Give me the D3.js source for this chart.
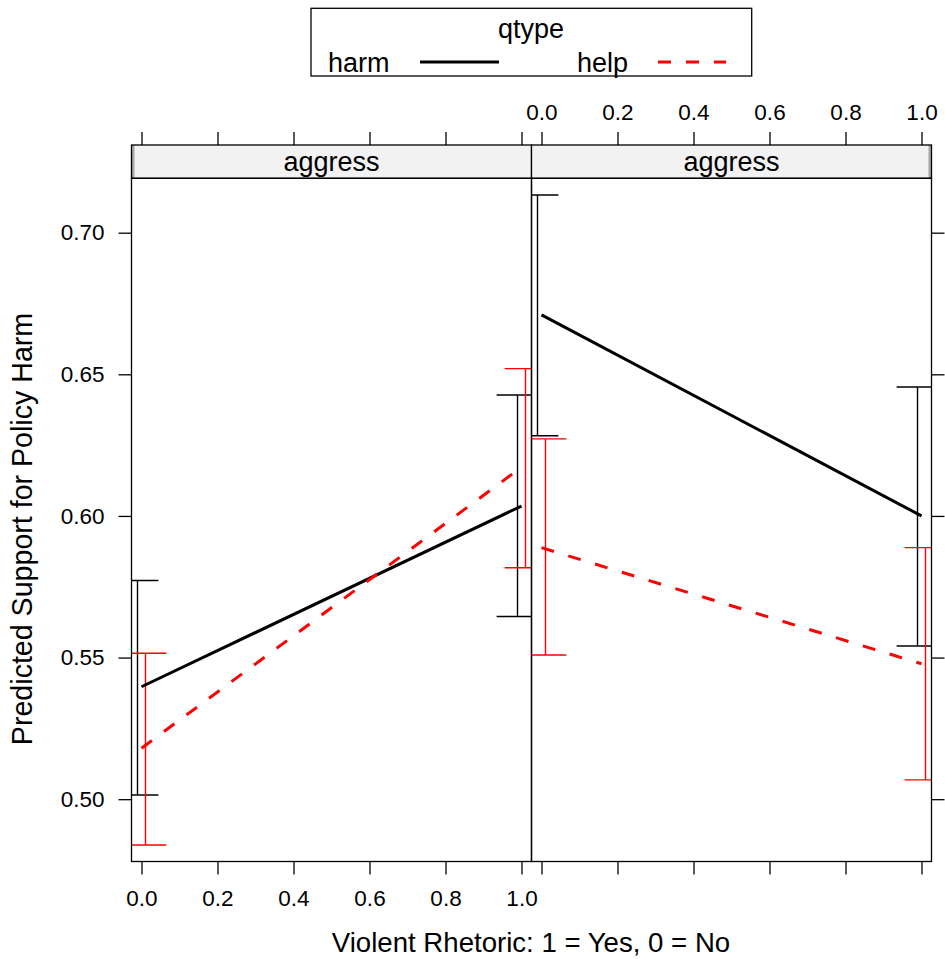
<!DOCTYPE html>
<html>
<head>
<meta charset="utf-8">
<script src="https://cdn.jsdelivr.net/npm/d3@7"></script>
<style>
  body { margin: 0; background: #fff; }
  text { font-family: "Liberation Sans", Arial, sans-serif; fill: #000; }
</style>
</head>
<body>
<script>
// data
var panelNames = ["aggress", "aggress"];
var xVals = [0, 1];
var qtypes = ["harm", "help"];
var harmFit   = [[0.5397, 0.6035], [0.6710, 0.6000]];
var harmLower = [[0.5015, 0.5645], [0.6283, 0.5541]];
var harmUpper = [[0.5772, 0.6427], [0.7133, 0.6455]];
var helpFit   = [[0.5180, 0.6172], [0.5888, 0.5478]];
var helpLower = [[0.4838, 0.5817], [0.5509, 0.5068]];
var helpUpper = [[0.5515, 0.6520], [0.6272, 0.5888]];
var xTicks = [0, 0.2, 0.4, 0.6, 0.8, 1.0];
var yTicks = [0.50, 0.55, 0.60, 0.65, 0.70];

var series = {
  harm: {fit: harmFit, lo: harmLower, hi: harmUpper, color: "#000000", dash: null, dodge: -0.0105},
  help: {fit: helpFit, lo: helpLower, hi: helpUpper, color: "#FF0000", dash: "13,15", dodge: 0.0105}
};

var svg = d3.select("body").append("svg")
    .attr("width", 945)
    .attr("height", 959);

var panelW = 400,
    panelTop = 178.3,
    panelBottom = 861.5,
    stripTop = 145,
    panelLeft = [131.5, 531.5],
    capHalf = 0.055;

var x = d3.scaleLinear().domain([-0.0263, 1.0263]).range([0, panelW]),
    y = d3.scaleLinear().domain([0.4780, 0.7192]).range([panelBottom, panelTop]);

var fmtX = d3.format(".1f"),
    fmtY = d3.format(".2f");

// legend
var leg = svg.append("g");
leg.append("rect")
    .attr("x", 311).attr("y", 8.3)
    .attr("width", 440.7).attr("height", 67.7)
    .attr("fill", "#fff").attr("stroke", "#000").attr("stroke-width", 1.3);
leg.append("text")
    .attr("x", 531).attr("y", 38)
    .attr("text-anchor", "middle")
    .style("font-size", "27px")
    .text("qtype");
var legX = {harm: [328, 420, 499], help: [577, 658, 726]};
qtypes.forEach(function(q) {
  leg.append("text")
      .attr("x", legX[q][0]).attr("y", 72)
      .style("font-size", "27px")
      .text(q);
  leg.append("line")
      .attr("x1", legX[q][1]).attr("x2", legX[q][2])
      .attr("y1", 62).attr("y2", 62)
      .attr("stroke", series[q].color)
      .attr("stroke-width", 3)
      .attr("stroke-dasharray", series[q].dash);
});

svg.append("defs").append("clipPath")
    .attr("id", "clip")
  .append("rect")
    .attr("x", 0).attr("y", panelTop)
    .attr("width", panelW).attr("height", panelBottom - panelTop);

panelNames.forEach(function(name, p) {
  var g = svg.append("g")
      .attr("transform", "translate(" + panelLeft[p] + ",0)");

  // strip
  g.append("rect")
      .attr("x", 0).attr("y", stripTop)
      .attr("width", panelW).attr("height", panelTop - stripTop)
      .attr("fill", "#f2f2f2");
  g.append("rect")
      .attr("x", p == 0 ? 0 : panelW - 3).attr("y", stripTop)
      .attr("width", 3).attr("height", panelTop - stripTop)
      .attr("fill", "#a8a8a8");
  g.append("rect")
      .attr("x", 0).attr("y", stripTop)
      .attr("width", panelW).attr("height", panelTop - stripTop)
      .attr("fill", "none").attr("stroke", "#000").attr("stroke-width", 1.3);
  g.append("text")
      .attr("x", panelW / 2).attr("y", 171)
      .attr("text-anchor", "middle")
      .style("font-size", "27px")
      .text(name);

  var body = g.append("g").attr("clip-path", "url(#clip)");

  qtypes.forEach(function(q) {
    var s = series[q];
    xVals.forEach(function(xv, i) {
      var cx = x(xv + s.dodge);
      body.append("line")
          .attr("x1", cx).attr("x2", cx)
          .attr("y1", y(s.lo[p][i])).attr("y2", y(s.hi[p][i]))
          .attr("stroke", s.color).attr("stroke-width", 1.4);
      [s.lo[p][i], s.hi[p][i]].forEach(function(v) {
        body.append("line")
            .attr("x1", x(xv + s.dodge - capHalf)).attr("x2", x(xv + s.dodge + capHalf))
            .attr("y1", y(v)).attr("y2", y(v))
            .attr("stroke", s.color).attr("stroke-width", 1.4);
      });
    });
  });

  qtypes.forEach(function(q) {
    var s = series[q];
    body.append("path")
        .datum(xVals.map(function(xv, i) { return [xv, s.fit[p][i]]; }))
        .attr("fill", "none")
        .attr("stroke", s.color)
        .attr("stroke-width", 3)
        .attr("stroke-dasharray", s.dash)
        .attr("d", d3.line()
            .x(function(d) { return x(d[0]); })
            .y(function(d) { return y(d[1]); }));
  });

  g.append("rect")
      .attr("x", 0).attr("y", panelTop)
      .attr("width", panelW).attr("height", panelBottom - panelTop)
      .attr("fill", "none").attr("stroke", "#000").attr("stroke-width", 1.3);

  // x axis: labels bottom on left panel, top on right panel
  var bottom = d3.axisBottom(x).tickValues(xTicks).tickSize(13).tickPadding(16)
      .tickFormat(p == 0 ? fmtX : "");
  var top = d3.axisTop(x).tickValues(xTicks).tickSize(13).tickPadding(12)
      .tickFormat(p == 1 ? fmtX : "");
  g.append("g").attr("class", "axis")
      .attr("transform", "translate(0," + panelBottom + ")")
      .call(bottom);
  g.append("g").attr("class", "axis")
      .attr("transform", "translate(0," + stripTop + ")")
      .call(top);

  if (p == 0) {
    g.append("g").attr("class", "axis")
        .call(d3.axisLeft(y).tickValues(yTicks).tickSize(13).tickPadding(14).tickFormat(fmtY));
  } else {
    g.append("g").attr("class", "axis")
        .attr("transform", "translate(" + panelW + ",0)")
        .call(d3.axisRight(y).tickValues(yTicks).tickSize(13).tickFormat(""));
  }
});

svg.selectAll(".axis .domain").remove();
svg.selectAll(".axis line").attr("stroke", "#000").attr("stroke-width", 1.3);
svg.selectAll(".axis text")
    .style("font-size", "22.5px")
    .style("font-family", "'Liberation Sans', Arial, sans-serif")
    .attr("fill", "#000");

// axis titles
svg.append("text")
    .attr("x", 531).attr("y", 952)
    .attr("text-anchor", "middle")
    .style("font-size", "27.6px")
    .text("Violent Rhetoric: 1 = Yes, 0 = No");

svg.append("text")
    .attr("transform", "translate(32," + 529 + ") rotate(-90)")
    .attr("text-anchor", "middle")
    .style("font-size", "28.6px")
    .text("Predicted Support for Policy Harm");
</script>
</body>
</html>
